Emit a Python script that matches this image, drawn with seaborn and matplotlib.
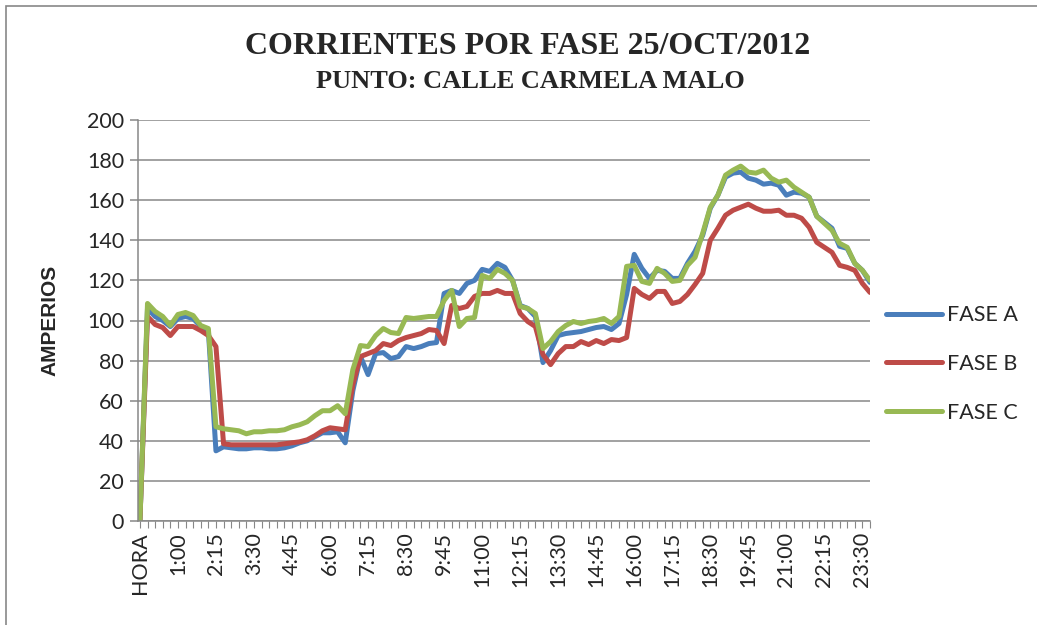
import numpy as np
import pandas as pd
import seaborn as sns
import matplotlib.pyplot as plt
from matplotlib.patches import Rectangle

# categorias del eje x: HORA + cada 15 minutos
horas = ["HORA"] + [f"{h}:{m:02d}" for h in range(24) for m in (0, 15, 30, 45)]

fase_a = [0, 106, 102, 100, 97, 101, 102, 101, 97, 95,
          35, 37, 36.5, 36, 36, 36.5, 36.5, 36, 36, 36.5,
          37.5, 39, 40, 42, 44, 44, 44.5, 39, 65, 82,
          73, 83.5, 84, 81, 82, 87, 86, 87, 88.5, 89,
          113.5, 115, 113.5, 118.5, 120, 125.5, 124.5, 128.5, 126.5, 120,
          107.5, 106, 102, 79, 85, 92.5, 93.5, 94, 94.5, 95.5,
          96.5, 97, 95.5, 98.5, 113, 133, 126, 121, 125, 124.5,
          121, 121, 128.5, 134.5, 142.5, 156, 162.5, 171.5, 173.5, 174,
          171, 170, 168, 168.5, 167.5, 162.5, 164, 163.5, 161.5, 152,
          149, 146, 137, 136, 128.5, 125, 119]

fase_b = [0, 102, 98, 96.5, 92.5, 97, 97, 97, 95, 92.5,
          87, 38.5, 38, 38, 38, 38, 38, 38, 38, 38.5,
          39, 39.5, 40.5, 42.5, 45, 46.5, 46, 45.5, 68, 82,
          83.5, 85, 88.5, 87.5, 90, 91.5, 92.5, 93.5, 95.5, 95,
          88.5, 107.5, 106, 107, 112, 113.5, 113.5, 115, 113.5, 113.5,
          103.5, 99.5, 97, 83, 78, 83.5, 87, 87, 89.5, 88,
          90, 88.5, 90.5, 90, 91.5, 116, 113, 111, 114.5, 114.5,
          108.5, 109.5, 113, 118, 123.5, 140, 146, 152.5, 155, 156.5,
          158, 156, 154.5, 154.5, 155, 152.5, 152.5, 151, 146.5, 139,
          136.5, 134, 127.5, 126.5, 125, 118.5, 114]

fase_c = [0, 108.5, 104.5, 102, 97.5, 103, 104, 102.5, 97.5, 96,
          47, 46, 45.5, 45, 43.5, 44.5, 44.5, 45, 45, 45.5,
          47, 48, 49.5, 52.5, 55, 55, 57.5, 53.5, 75.5, 87.5,
          87, 92.5, 96, 94, 93.5, 101.5, 101, 101.5, 102, 102,
          110, 115, 97, 101, 101.5, 122.5, 121, 125.5, 123.5, 120,
          107, 106, 103.5, 86, 89.5, 94.5, 97.5, 99.5, 98.5, 99.5,
          100, 101, 98.5, 102, 127, 127.5, 119.5, 118.5, 126, 123.5,
          119.5, 120, 127.5, 131.5, 143.5, 156.5, 162.5, 172.5, 175, 177,
          174, 173.5, 175, 171, 169, 170, 166.5, 164, 161.5, 152,
          148.5, 145, 138.5, 136.5, 128.5, 125, 120]

fases = ["FASE A", "FASE B", "FASE C"]
colores = ["#4A7EBB", "#BE4B48", "#98B954"]

df = pd.DataFrame({"pos": range(len(horas)), "FASE A": fase_a,
                   "FASE B": fase_b, "FASE C": fase_c})
df = df.melt(id_vars="pos", var_name="fase", value_name="amperios")

sns.set_style("white")
plt.rcParams['font.family'] = ['Lato', 'DejaVu Sans']

fig = plt.figure(figsize=(10.37, 6.25), dpi=100)
ax = fig.add_axes([138 / 1037, 1 - 521 / 625, (870 - 138) / 1037, (521 - 120) / 625])

sns.lineplot(data=df, x="pos", y="amperios", hue="fase", hue_order=fases,
             palette=colores, linewidth=3.6, ax=ax, legend=True)

gris = "#878787"
ax.set_ylim(0, 200)
ax.set_yticks(np.arange(0, 201, 20))
ax.set_xlim(-0.25, 96)
ax.set_xticks(range(0, len(horas), 5))
ax.set_xticklabels(horas[::5], rotation=90)
ax.set_xticks(range(len(horas)), minor=True)
ax.grid(axis="y", color=gris, linewidth=1.1)
ax.set_axisbelow(True)
for s in ["top", "right"]:
    ax.spines[s].set_visible(False)
for s in ["left", "bottom"]:
    ax.spines[s].set_color(gris)
    ax.spines[s].set_linewidth(1.1)
ax.tick_params(axis="y", which="major", direction="out", length=6, width=1.1,
               color=gris, labelsize=15.5, pad=4, left=True)
ax.tick_params(axis="x", which="both", direction="out", length=5, width=0.8,
               color=gris, labelsize=15.5, pad=3, bottom=True)
ax.set_xlabel("")
ax.set_ylabel("")

leg = ax.legend(loc="center left", bbox_to_anchor=(886 / 1037, 1 - 364 / 625),
                bbox_transform=fig.transFigure, frameon=False, fontsize=15.5,
                handlelength=2.6, handletextpad=0.25, labelspacing=1.33,
                borderpad=0, borderaxespad=0)
for ln in leg.get_lines():
    ln.set_linewidth(3.6)

fig.text(528 / 1037, 1 - 46 / 625, "CORRIENTES POR FASE 25/OCT/2012",
         family="Liberation Serif", weight="bold", fontsize=23,
         ha="center", va="center")
fig.text(530 / 1037, 1 - 81 / 625, "PUNTO: CALLE CARMELA MALO",
         family="Liberation Serif", weight="bold", fontsize=19,
         ha="center", va="center")
fig.text(50 / 1037, 1 - 320 / 625, "AMPERIOS", family="Liberation Sans",
         weight="bold", fontsize=15, rotation=90, ha="center", va="center")

fig.patches.append(Rectangle((6 / 1037, -0.05), 1.1, 1 - 6 / 625 + 0.05,
                             transform=fig.transFigure, fill=False,
                             edgecolor=gris, linewidth=1.2))

fig.savefig("out.png", dpi=100)
